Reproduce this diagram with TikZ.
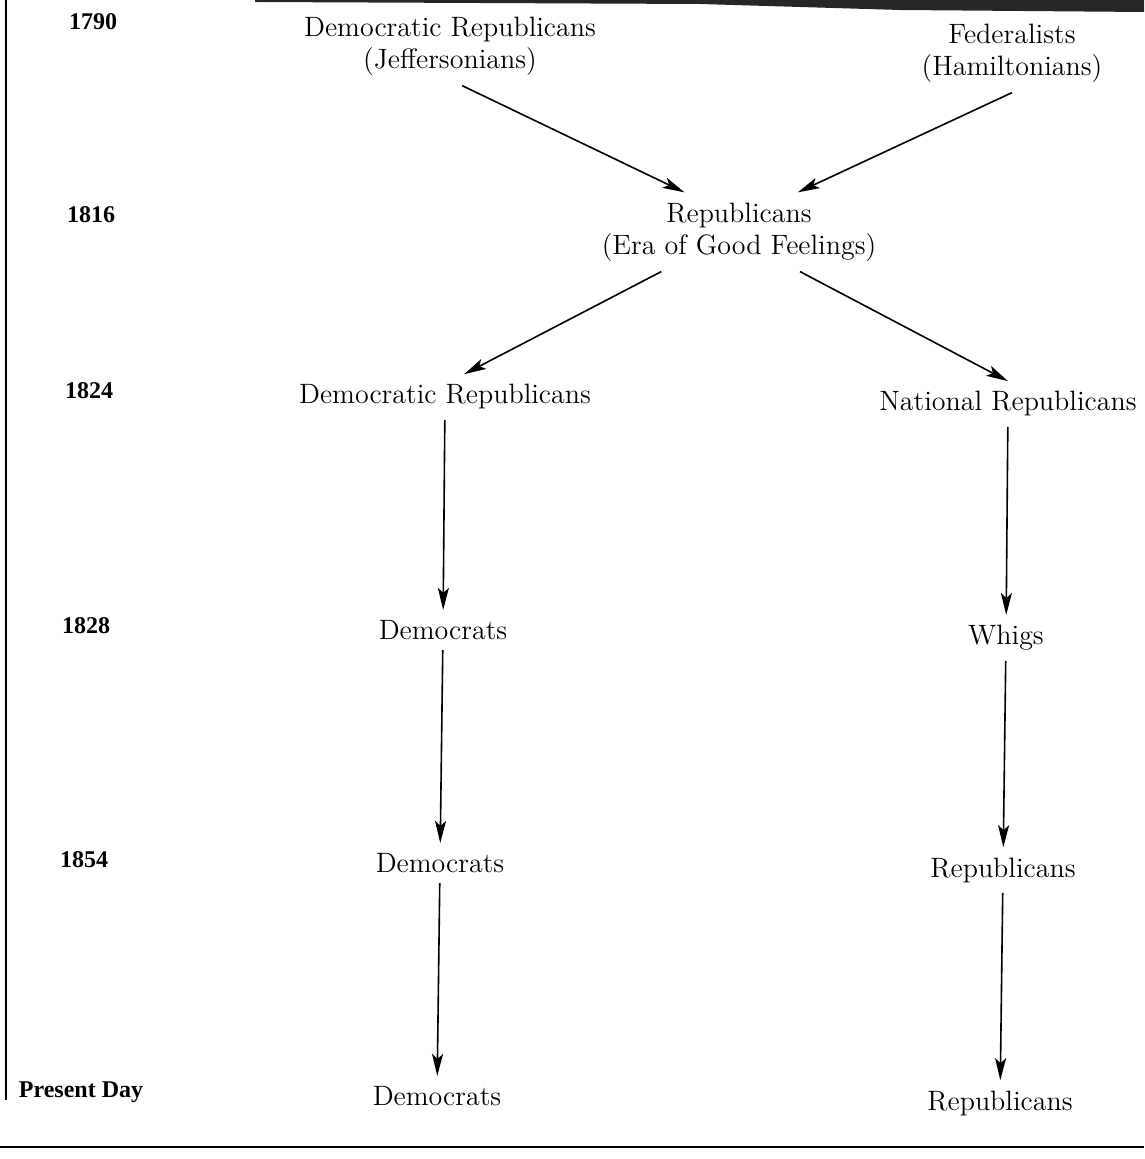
\documentclass[tikz,border=0pt]{standalone}
\usepackage{amsmath}
\usepackage{fontspec}
\newfontfamily\yearfont{Liberation Serif}
\usetikzlibrary{arrows.meta}

\tikzset{
  party/.style={font=\fontsize{14}{16}\selectfont, align=center, inner sep=5pt},
  year/.style={font=\yearfont\fontsize{12}{14}\selectfont\bfseries, inner sep=2pt},
  arr/.style={line width=0.8pt, -{Stealth[length=11pt,width=5.5pt,inset=2.5pt]}}
}

\begin{document}
\begin{tikzpicture}[x=0.5pt,y=-0.5pt]
    \useasboundingbox (0,0) rectangle (1144,1159);
    % frame of the page
    \draw[line width=1pt] (6,0) -- (6,1100);
    \draw[line width=1.1pt] (0,1147) -- (1144,1147);
    \fill[black!85] (255,0) -- (1144,0) -- (1144,12) -- (900,10) -- (700,4) -- (255,2) -- cycle;

    % years
    \node[year] (y1790) at (93,22) {1790};
    \node[year] (y1816) at (91,215) {1816};
    \node[year] (y1824) at (89,391) {1824};
    \node[year] (y1828) at (86,626) {1828};
    \node[year] (y1854) at (84,860) {1854};
    \node[year] (ynow) at (81,1092) {Present Day};

    % parties
    \node[party] (dr) at (450,46) {Democratic Republicans\\(Jeffersonians)};
    \node[party] (fed) at (1012,53) {Federalists\\(Hamiltonians)};
    \node[party] (rep) at (739,232) {Republicans\\(Era of Good Feelings)};
    \node[party] (dr2) at (445,397) {Democratic Republicans};
    \node[party] (nr) at (1008,404) {National Republicans};
    \node[party] (dem1) at (443,630) {Democrats};
    \node[party] (whigs) at (1006,638) {Whigs};
    \node[party] (dem2) at (440,863) {Democrats};
    \node[party] (rep2) at (1003,870) {Republicans};
    \node[party] (dem3) at (437,1096) {Democrats};
    \node[party] (rep3) at (1000,1103) {Republicans};

    \draw[arr] (dr.-73) -- (rep.144);
    \draw[arr] (fed.south) -- (rep.34);
    \draw[arr] (rep.207) -- (dr2.50);
    \draw[arr] (rep.-33) -- (nr.north);

    \draw[arr] (dr2) -- (dem1);
    \draw[arr] (dem1) -- (dem2);
    \draw[arr] (dem2) -- (dem3);
    \draw[arr] (nr) -- (whigs);
    \draw[arr] (whigs) -- (rep2);
    \draw[arr] (rep2) -- (rep3);

\end{tikzpicture}
\end{document}
